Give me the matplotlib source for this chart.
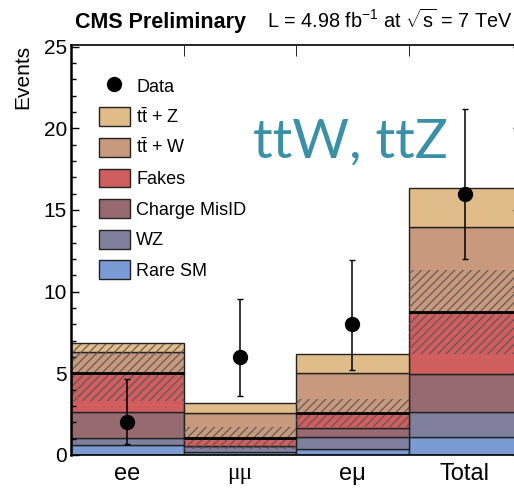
import matplotlib
matplotlib.use("Agg")
import matplotlib.pyplot as plt
from matplotlib.patches import Patch
from matplotlib.lines import Line2D
import numpy as np

plt.rcParams['font.family'] = ['Liberation Sans', 'DejaVu Sans']
plt.rcParams['mathtext.fontset'] = 'custom'
plt.rcParams['mathtext.rm'] = 'Liberation Sans'
plt.rcParams['mathtext.it'] = 'Liberation Sans:italic'
plt.rcParams['hatch.linewidth'] = 0.8

# channels
channels = ['ee', 'μμ', 'eμ', 'Total']

# stacked backgrounds (bottom to top), events per channel
rare_sm = [0.61, 0.20, 0.35, 1.10]
wz = [0.41, 0.37, 0.73, 1.53]
charge_misid = [1.64, 0.00, 0.55, 2.32]
fakes = [2.39, 0.47, 0.94, 3.81]
ttw = [1.24, 1.53, 2.47, 5.18]
ttz = [0.58, 0.61, 1.16, 2.38]

# uncertainty on the background sum (half width of hatched band)
bkg_unc = [1.75, 0.67, 0.86, 2.57]

# observed data with asymmetric errors
data = [2, 6, 8, 16]
data_err_lo = [1.30, 2.40, 2.80, 4.00]
data_err_hi = [2.64, 3.55, 3.95, 5.20]

names = ['Rare SM', 'WZ', 'Charge MisID', 'Fakes', r'$\mathrm{t\bar{t}}$ + W', r'$\mathrm{t\bar{t}}$ + Z']
colors = ['#7a9bd4', '#80809e', '#966a70', '#d05e5e', '#c8997d', '#e0bc8a']
stack = [rare_sm, wz, charge_misid, fakes, ttw, ttz]

fig = plt.figure(figsize=(5.14, 4.88), dpi=100)
ax = fig.add_axes([71/514, 33/488, 450/514, 410/488])

x = np.arange(len(channels))
bottom = np.zeros(len(channels))
for vals, c in zip(stack, colors):
    vals = np.array(vals)
    ax.bar(x, vals, bottom=bottom, width=1.0, align='edge', color=c,
           edgecolor='#222222', linewidth=1.0, zorder=1)
    bottom = bottom + vals

# background total (without signal) and its uncertainty band
bkg = np.array(rare_sm) + np.array(wz) + np.array(charge_misid) + np.array(fakes)
unc = np.array(bkg_unc)
ax.bar(x, 2*unc, bottom=bkg - unc, width=1.0, align='edge', fill=False,
       hatch='////', edgecolor='#555555', linewidth=0, zorder=2)
ax.hlines(bkg, x, x + 1, colors='black', linewidth=2.0, zorder=3)

ax.errorbar(x + 0.5, data, yerr=[data_err_lo, data_err_hi], fmt='o', color='black',
            markersize=10, elinewidth=1.1, capsize=2, zorder=4)

ax.set_xlim(0, 4)
ax.set_ylim(0, 25.1)
ax.set_xticks(x + 0.5)
ax.set_xticklabels(channels, fontsize=17)
for lab in ax.get_xticklabels():
    if lab.get_text() == 'μμ':
        lab.set_family('Liberation Serif')
ax.set_xticks([1, 2, 3], minor=True)
ax.tick_params(axis='x', which='major', length=0, pad=6)
ax.tick_params(axis='x', which='minor', direction='in', top=True, bottom=False, length=8)
ax.set_yticks([0, 5, 10, 15, 20, 25])
ax.set_yticks(np.arange(0, 26, 1), minor=True)
ax.tick_params(axis='y', which='major', direction='in', left=True, right=True,
               length=6, width=1.0, labelsize=15, pad=3)
ax.tick_params(axis='y', which='minor', direction='in', left=True, right=True,
               length=3.5, width=1.0)
ax.set_ylabel('Events', fontsize=15, loc='top', labelpad=8)
for s in ax.spines.values():
    s.set_linewidth(1.2)
ax.spines['left'].set_linewidth(1.8)

handles = [Line2D([], [], marker='o', color='black', linestyle='none', markersize=10)]
labels = ['Data']
for n, c in zip(names[::-1], colors[::-1]):
    handles.append(Patch(facecolor=c, edgecolor='#222222', linewidth=1.0))
    labels.append(n)
ax.legend(handles, labels, loc='upper left', bbox_to_anchor=(0.042, 0.945),
          frameon=False, fontsize=13, handlelength=1.72, handleheight=1.22,
          handletextpad=0.35, labelspacing=0.62, borderpad=0)

fig.text(75/514, 1 - 28/488, 'CMS Preliminary', fontsize=15.5, fontweight='bold',
         ha='left', va='baseline')
fig.text(512/514, 1 - 28/488, r'L = 4.98 fb$^{-1}$ at $\sqrt{\mathrm{s}}$ = 7 TeV',
         fontsize=14.3, ha='right', va='baseline')
fig.text(253/514, 1 - 158/488, 'ttW, ttZ', fontsize=39.5, color='#3a90a6',
         family='Lato', ha='left', va='baseline')

fig.savefig('out.png', dpi=100)
